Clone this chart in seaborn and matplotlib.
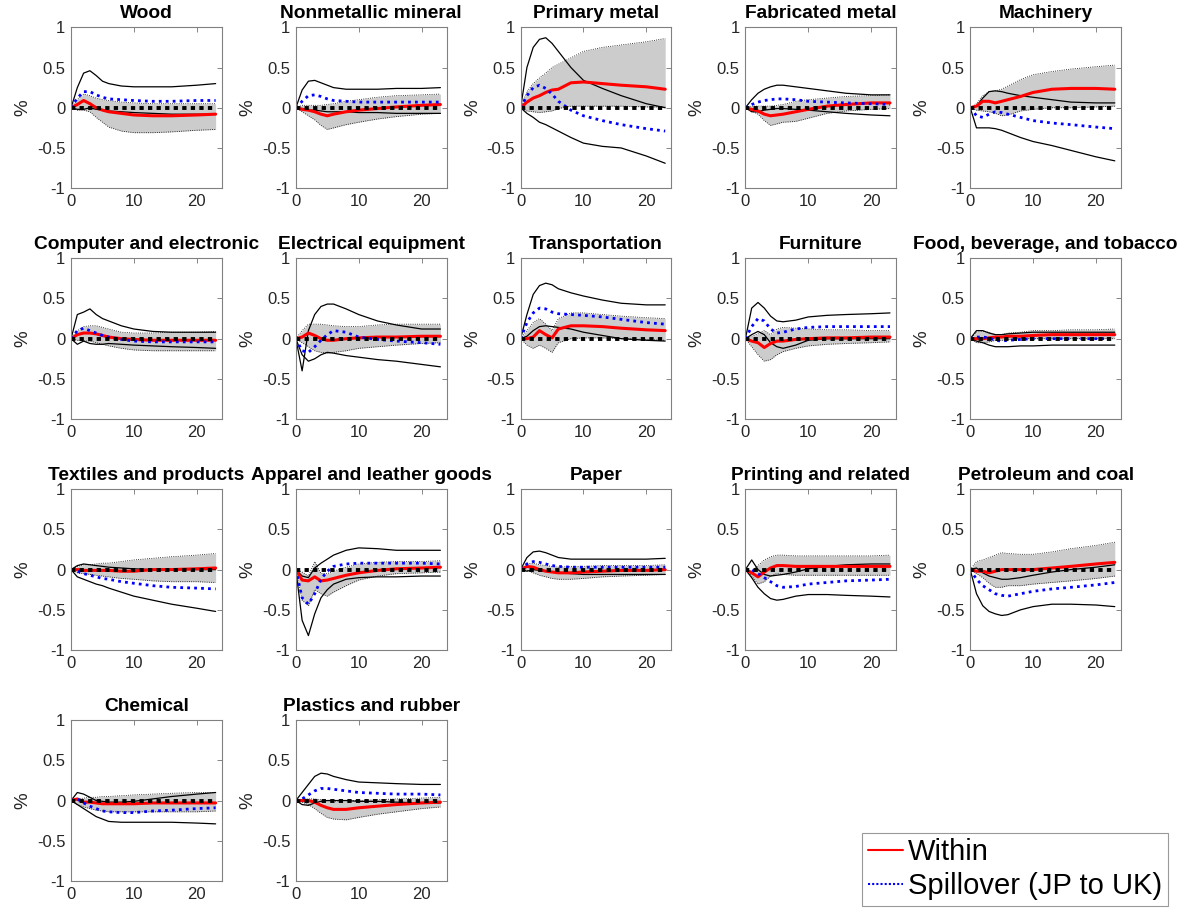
import matplotlib
matplotlib.use('Agg')
import matplotlib.pyplot as plt
from matplotlib.lines import Line2D
import seaborn as sns

horizons = [0, 1, 2, 3, 4, 5, 6, 8, 10, 13, 16, 20, 23]

industries = ['Wood', 'Nonmetallic mineral', 'Primary metal', 'Fabricated metal', 'Machinery',
              'Computer and electronic', 'Electrical equipment', 'Transportation', 'Furniture',
              'Food, beverage, and tobacco',
              'Textiles and products', 'Apparel and leather goods', 'Paper', 'Printing and related',
              'Petroleum and coal',
              'Chemical', 'Plastics and rubber']

# within-industry response (red) and its band (gray)
within = [
    [0, 0.04, 0.09, 0.05, 0.0, -0.03, -0.05, -0.07, -0.09, -0.1, -0.1, -0.09, -0.08],
    [0, -0.02, -0.03, -0.05, -0.08, -0.1, -0.08, -0.05, -0.03, -0.01, 0.01, 0.03, 0.04],
    [0, 0.07, 0.12, 0.15, 0.19, 0.22, 0.23, 0.31, 0.32, 0.3, 0.28, 0.26, 0.23],
    [0, -0.02, -0.04, -0.08, -0.1, -0.09, -0.08, -0.05, -0.02, 0.02, 0.04, 0.06, 0.06],
    [0, 0.02, 0.08, 0.08, 0.06, 0.08, 0.1, 0.14, 0.19, 0.23, 0.24, 0.24, 0.23],
    [0, 0.05, 0.07, 0.07, 0.06, 0.04, 0.02, 0.0, -0.01, -0.02, -0.02, -0.02, -0.02],
    [0, 0.02, 0.07, 0.04, 0.0, -0.02, -0.02, 0.0, 0.01, 0.02, 0.02, 0.03, 0.03],
    [0, 0.0, 0.02, 0.1, 0.05, 0.01, 0.12, 0.16, 0.16, 0.15, 0.13, 0.11, 0.1],
    [0, -0.03, -0.05, -0.11, -0.06, -0.03, -0.03, -0.01, 0.0, 0.01, 0.01, 0.02, 0.02],
    [0, 0.0, 0.0, 0.01, 0.02, 0.02, 0.03, 0.03, 0.04, 0.05, 0.05, 0.05, 0.05],
    [0, 0.0, -0.01, -0.01, -0.01, -0.01, -0.01, -0.02, -0.02, 0.0, 0.0, 0.01, 0.02],
    [0, -0.13, -0.14, -0.09, -0.14, -0.13, -0.11, -0.07, -0.04, -0.01, 0.01, 0.02, 0.03],
    [0, 0.04, 0.03, 0.0, -0.02, -0.03, -0.04, -0.04, -0.03, -0.02, -0.01, -0.01, 0.0],
    [0, -0.04, -0.09, -0.03, 0.02, 0.05, 0.05, 0.04, 0.04, 0.04, 0.04, 0.04, 0.04],
    [0, -0.02, -0.02, -0.04, -0.02, 0.0, 0.0, 0.0, 0.0, 0.02, 0.04, 0.07, 0.09],
    [0, 0.02, -0.02, -0.02, -0.03, -0.04, -0.04, -0.04, -0.04, -0.03, -0.03, -0.03, -0.03],
    [0, 0.0, 0.0, -0.02, -0.06, -0.09, -0.11, -0.11, -0.09, -0.07, -0.05, -0.03, -0.02],
]
within_hi = [
    [0, 0.1, 0.17, 0.15, 0.12, 0.1, 0.09, 0.07, 0.06, 0.05, 0.05, 0.05, 0.05],
    [0, 0.03, 0.03, 0.03, 0.03, 0.04, 0.05, 0.08, 0.1, 0.13, 0.15, 0.16, 0.17],
    [0, 0.2, 0.3, 0.37, 0.43, 0.5, 0.54, 0.62, 0.7, 0.75, 0.78, 0.82, 0.86],
    [0, 0.02, 0.02, 0.02, 0.02, 0.03, 0.04, 0.08, 0.1, 0.12, 0.14, 0.15, 0.16],
    [0, 0.05, 0.15, 0.2, 0.21, 0.23, 0.27, 0.35, 0.41, 0.45, 0.48, 0.51, 0.53],
    [0, 0.1, 0.15, 0.16, 0.16, 0.14, 0.12, 0.08, 0.07, 0.07, 0.08, 0.08, 0.09],
    [0, 0.1, 0.18, 0.18, 0.18, 0.17, 0.16, 0.15, 0.15, 0.17, 0.18, 0.18, 0.18],
    [0, 0.1, 0.2, 0.25, 0.18, 0.1, 0.25, 0.32, 0.32, 0.3, 0.28, 0.26, 0.25],
    [0, 0.03, 0.06, 0.1, 0.05, 0.12, 0.14, 0.13, 0.12, 0.11, 0.11, 0.1, 0.1],
    [0, 0.08, 0.09, 0.08, 0.05, 0.05, 0.07, 0.08, 0.1, 0.1, 0.11, 0.11, 0.12],
    [0, 0.04, 0.06, 0.06, 0.07, 0.08, 0.08, 0.1, 0.12, 0.14, 0.16, 0.18, 0.2],
    [0, -0.03, -0.08, 0.1, -0.05, -0.05, -0.02, 0.03, 0.07, 0.09, 0.1, 0.1, 0.11],
    [0, 0.07, 0.08, 0.06, 0.05, 0.04, 0.03, 0.04, 0.04, 0.05, 0.05, 0.05, 0.06],
    [0, -0.02, 0.05, 0.12, 0.16, 0.18, 0.18, 0.17, 0.17, 0.17, 0.17, 0.17, 0.18],
    [0, 0.1, 0.12, 0.15, 0.18, 0.21, 0.2, 0.19, 0.19, 0.22, 0.26, 0.3, 0.34],
    [0, 0.02, 0.03, 0.04, 0.04, 0.05, 0.05, 0.06, 0.07, 0.08, 0.09, 0.1, 0.1],
    [0, 0.02, 0.02, 0.02, 0.01, 0.0, -0.01, 0.0, 0.0, 0.01, 0.02, 0.03, 0.04],
]
within_lo = [
    [0, -0.03, -0.03, -0.05, -0.12, -0.18, -0.24, -0.29, -0.31, -0.31, -0.3, -0.28, -0.27],
    [0, -0.05, -0.1, -0.15, -0.22, -0.27, -0.25, -0.21, -0.18, -0.14, -0.11, -0.08, -0.07],
    [0, -0.04, -0.05, -0.06, -0.05, -0.04, -0.01, 0.02, 0.02, 0.02, 0.02, 0.01, 0.01],
    [0, -0.04, -0.08, -0.16, -0.22, -0.2, -0.18, -0.17, -0.13, -0.07, -0.04, -0.02, -0.01],
    [0, -0.03, -0.04, -0.05, -0.07, -0.1, -0.09, -0.04, -0.02, 0.0, 0.0, 0.01, 0.02],
    [0, -0.02, -0.03, -0.03, -0.05, -0.07, -0.09, -0.12, -0.14, -0.15, -0.15, -0.15, -0.15],
    [0, -0.05, -0.1, -0.15, -0.17, -0.18, -0.17, -0.15, -0.12, -0.1, -0.08, -0.06, -0.05],
    [0, -0.08, -0.12, -0.08, -0.12, -0.17, -0.05, 0.0, 0.01, 0.01, 0.0, -0.01, -0.02],
    [0, -0.1, -0.2, -0.28, -0.26, -0.2, -0.16, -0.12, -0.09, -0.07, -0.06, -0.05, -0.04],
    [0, -0.05, -0.05, -0.04, -0.02, -0.02, -0.01, 0.0, 0.0, 0.0, 0.0, 0.0, 0.0],
    [0, -0.04, -0.05, -0.06, -0.07, -0.08, -0.09, -0.11, -0.12, -0.14, -0.15, -0.15, -0.16],
    [0, -0.38, -0.45, -0.25, -0.3, -0.33, -0.28, -0.2, -0.13, -0.08, -0.05, -0.04, -0.03],
    [0, -0.01, -0.04, -0.07, -0.09, -0.11, -0.12, -0.12, -0.11, -0.09, -0.08, -0.07, -0.06],
    [0, -0.08, -0.18, -0.15, -0.08, -0.05, -0.06, -0.07, -0.07, -0.07, -0.07, -0.07, -0.07],
    [0, -0.05, -0.1, -0.17, -0.22, -0.22, -0.2, -0.2, -0.18, -0.16, -0.14, -0.11, -0.08],
    [0, -0.05, -0.08, -0.1, -0.12, -0.13, -0.14, -0.14, -0.14, -0.14, -0.14, -0.14, -0.13],
    [0, -0.02, -0.05, -0.1, -0.16, -0.21, -0.23, -0.24, -0.21, -0.17, -0.14, -0.1, -0.08],
]

# spillover JP -> UK (blue dotted) and its bounds (thin black)
spill = [
    [0, 0.12, 0.2, 0.2, 0.16, 0.13, 0.11, 0.1, 0.09, 0.08, 0.08, 0.09, 0.09],
    [0, 0.08, 0.15, 0.16, 0.14, 0.11, 0.09, 0.08, 0.07, 0.07, 0.07, 0.07, 0.07],
    [0, 0.15, 0.25, 0.28, 0.24, 0.17, 0.08, -0.03, -0.1, -0.16, -0.21, -0.26, -0.29],
    [0, 0.04, 0.07, 0.09, 0.1, 0.11, 0.11, 0.1, 0.08, 0.07, 0.06, 0.05, 0.04],
    [0, -0.1, -0.12, -0.08, -0.05, -0.06, -0.08, -0.12, -0.16, -0.19, -0.21, -0.24, -0.26],
    [0, 0.1, 0.13, 0.1, 0.07, 0.04, 0.02, -0.01, -0.03, -0.04, -0.04, -0.04, -0.04],
    [0, -0.15, -0.17, -0.1, -0.02, 0.05, 0.1, 0.08, 0.02, -0.01, -0.03, -0.05, -0.07],
    [0, 0.2, 0.32, 0.38, 0.37, 0.33, 0.31, 0.3, 0.29, 0.27, 0.24, 0.2, 0.18],
    [0, 0.15, 0.25, 0.22, 0.12, 0.07, 0.08, 0.12, 0.14, 0.15, 0.15, 0.15, 0.15],
    [0, 0.02, 0.02, 0.01, -0.02, -0.03, -0.02, -0.01, 0.0, 0.0, 0.0, 0.0, 0.0],
    [0, -0.02, -0.05, -0.07, -0.09, -0.11, -0.12, -0.15, -0.17, -0.2, -0.22, -0.23, -0.24],
    [0, -0.35, -0.43, -0.3, -0.12, -0.02, 0.04, 0.07, 0.08, 0.08, 0.08, 0.08, 0.07],
    [0, 0.07, 0.1, 0.09, 0.07, 0.05, 0.04, 0.03, 0.03, 0.03, 0.03, 0.03, 0.03],
    [0, 0.0, -0.05, -0.1, -0.15, -0.2, -0.22, -0.21, -0.18, -0.16, -0.14, -0.13, -0.12],
    [0, -0.12, -0.2, -0.25, -0.3, -0.32, -0.33, -0.3, -0.27, -0.24, -0.22, -0.19, -0.16],
    [0, 0.02, -0.03, -0.07, -0.1, -0.13, -0.14, -0.15, -0.15, -0.13, -0.12, -0.1, -0.09],
    [0, 0.02, 0.07, 0.12, 0.15, 0.15, 0.14, 0.12, 0.1, 0.09, 0.08, 0.08, 0.07],
]
spill_hi = [
    [0, 0.25, 0.43, 0.46, 0.4, 0.33, 0.3, 0.27, 0.26, 0.26, 0.26, 0.28, 0.3],
    [0, 0.22, 0.33, 0.34, 0.31, 0.28, 0.25, 0.23, 0.23, 0.23, 0.24, 0.24, 0.25],
    [0, 0.5, 0.75, 0.85, 0.87, 0.8, 0.7, 0.5, 0.34, 0.24, 0.15, 0.05, 0.0],
    [0, 0.1, 0.18, 0.23, 0.26, 0.28, 0.28, 0.26, 0.24, 0.21, 0.18, 0.16, 0.16],
    [0, 0.02, 0.12, 0.2, 0.21, 0.2, 0.18, 0.15, 0.13, 0.1, 0.07, 0.06, 0.06],
    [0, 0.3, 0.33, 0.37, 0.3, 0.25, 0.22, 0.16, 0.12, 0.09, 0.08, 0.08, 0.08],
    [0, -0.4, 0.1, 0.3, 0.4, 0.43, 0.43, 0.37, 0.3, 0.22, 0.17, 0.12, 0.12],
    [0, 0.3, 0.55, 0.66, 0.69, 0.67, 0.62, 0.57, 0.53, 0.48, 0.44, 0.42, 0.42],
    [0, 0.38, 0.45, 0.38, 0.28, 0.22, 0.21, 0.23, 0.27, 0.29, 0.3, 0.31, 0.32],
    [0, 0.1, 0.1, 0.07, 0.05, 0.05, 0.06, 0.07, 0.08, 0.08, 0.08, 0.08, 0.08],
    [0, 0.05, 0.07, 0.06, 0.05, 0.04, 0.03, 0.02, 0.01, 0.0, 0.0, 0.0, 0.0],
    [0, -0.08, -0.1, 0.02, 0.08, 0.13, 0.18, 0.24, 0.27, 0.26, 0.24, 0.24, 0.24],
    [0, 0.15, 0.22, 0.23, 0.21, 0.18, 0.15, 0.13, 0.13, 0.13, 0.13, 0.13, 0.14],
    [0, 0.12, 0.0, -0.06, -0.08, -0.07, -0.06, -0.03, 0.01, 0.04, 0.06, 0.07, 0.07],
    [0, 0.02, -0.04, -0.08, -0.1, -0.12, -0.12, -0.1, -0.07, -0.03, 0.0, 0.03, 0.06],
    [0, 0.1, 0.08, 0.04, 0.0, -0.01, -0.02, -0.02, -0.01, 0.02, 0.05, 0.08, 0.1],
    [0, 0.1, 0.2, 0.3, 0.34, 0.33, 0.3, 0.26, 0.23, 0.22, 0.21, 0.2, 0.2],
]
spill_lo = [
    [0, -0.02, -0.02, 0.0, -0.02, -0.03, -0.04, -0.05, -0.06, -0.07, -0.08, -0.08, -0.08],
    [0, -0.01, -0.03, -0.03, -0.04, -0.05, -0.05, -0.05, -0.06, -0.06, -0.07, -0.07, -0.07],
    [0, -0.07, -0.12, -0.18, -0.21, -0.25, -0.29, -0.37, -0.44, -0.48, -0.5, -0.6, -0.69],
    [0, -0.05, -0.05, -0.03, -0.02, -0.01, -0.01, -0.02, -0.03, -0.05, -0.07, -0.09, -0.1],
    [0, -0.25, -0.25, -0.25, -0.26, -0.28, -0.31, -0.37, -0.42, -0.47, -0.53, -0.61, -0.66],
    [0, -0.07, -0.03, -0.06, -0.07, -0.07, -0.06, -0.07, -0.08, -0.09, -0.1, -0.11, -0.12],
    [0, -0.2, -0.28, -0.25, -0.2, -0.17, -0.18, -0.21, -0.23, -0.26, -0.28, -0.32, -0.35],
    [0, 0.03, 0.1, 0.15, 0.16, 0.15, 0.14, 0.12, 0.08, 0.04, 0.0, -0.02, -0.03],
    [0, 0.05, 0.09, 0.05, -0.05, -0.1, -0.12, -0.08, -0.02, 0.0, 0.0, 0.0, 0.0],
    [0, -0.03, -0.05, -0.08, -0.1, -0.1, -0.1, -0.09, -0.09, -0.08, -0.08, -0.08, -0.08],
    [0, -0.09, -0.12, -0.15, -0.18, -0.2, -0.23, -0.28, -0.33, -0.38, -0.43, -0.48, -0.52],
    [0, -0.63, -0.82, -0.55, -0.35, -0.25, -0.18, -0.12, -0.1, -0.09, -0.09, -0.08, -0.08],
    [0, -0.02, 0.0, -0.01, -0.02, -0.03, -0.04, -0.05, -0.06, -0.06, -0.06, -0.06, -0.06],
    [0, -0.1, -0.22, -0.3, -0.36, -0.38, -0.37, -0.33, -0.31, -0.31, -0.32, -0.33, -0.34],
    [0, -0.3, -0.45, -0.52, -0.55, -0.57, -0.56, -0.5, -0.46, -0.43, -0.43, -0.44, -0.46],
    [0, -0.05, -0.1, -0.15, -0.2, -0.23, -0.26, -0.27, -0.27, -0.27, -0.27, -0.28, -0.29],
    [0, -0.05, -0.06, -0.03, -0.01, 0.0, 0.0, 0.0, -0.01, -0.01, -0.02, -0.03, -0.03],
]

yticks = [-1, -0.5, 0, 0.5, 1]
ytick_labels = ['-1', '-0.5', '0', '0.5', '1']
xticks = [0, 10, 20]

rojo = '#ff0000'
azul = '#0000ff'
gris = '#cccccc'

sns.set_style('white')
plt.rcParams['font.family'] = ['Liberation Sans', 'DejaVu Sans']
plt.rcParams['axes.unicode_minus'] = False

fig, axes = plt.subplots(4, 5, figsize=(11.92, 9.09), dpi=100)
fig.subplots_adjust(left=0.0596, right=0.9405, top=0.970, bottom=0.0308, wspace=0.49, hspace=0.435)
axes = axes.flatten()

for i, nombre in enumerate(industries):
    ax = axes[i]
    ax.fill_between(horizons, within_lo[i], within_hi[i], color=gris, linewidth=0)
    sns.lineplot(x=horizons, y=within_hi[i], ax=ax, color='k', linewidth=0.6, linestyle=':')
    sns.lineplot(x=horizons, y=within_lo[i], ax=ax, color='k', linewidth=0.6, linestyle=':')
    sns.lineplot(x=horizons, y=spill_hi[i], ax=ax, color='k', linewidth=0.9)
    sns.lineplot(x=horizons, y=spill_lo[i], ax=ax, color='k', linewidth=0.9)
    sns.lineplot(x=horizons, y=within[i], ax=ax, color=rojo, linewidth=2.2)
    sns.lineplot(x=horizons, y=spill[i], ax=ax, color=azul, linewidth=2, dashes=False,
                 linestyle=(0, (1, 1.5)))
    ax.hlines(0, horizons[0], horizons[-1], color='k', linewidth=2.8, linestyles=(0, (1.1, 1.1)))

    ax.set_xlim(0, 24)
    ax.set_ylim(-1, 1)
    ax.set_yticks(yticks)
    ax.set_yticklabels(ytick_labels)
    ax.set_xticks(xticks)
    ax.tick_params(direction='in', length=3.5, width=0.6, color='0.45', labelsize=12,
                   labelcolor='#262626', top=True, right=True, pad=4)
    for s in ax.spines.values():
        s.set_color('0.5')
        s.set_linewidth(0.8)
    ax.set_title(nombre, fontsize=13.8, fontweight='bold', pad=6.5, color='k')
    ax.set_ylabel('%', fontsize=13.5, color='#262626', labelpad=4)

for ax in axes[len(industries):]:
    ax.remove()

referencias = [Line2D([0], [0], color=rojo, linewidth=1.5),
               Line2D([0], [0], color=azul, linewidth=1.5, linestyle=(0, (1, 1)))]
leg = fig.legend(referencias, ['Within', 'Spillover (JP to UK)'], loc='lower right',
                 bbox_to_anchor=(0.982, 0.0), fontsize=21, handlelength=1.2, handletextpad=0.15,
                 borderpad=0.2, labelspacing=0.2, borderaxespad=0.1, fancybox=False, framealpha=1)
leg.get_frame().set_edgecolor('0.6')
leg.get_frame().set_linewidth(0.8)
for t in leg.get_texts():
    t.set_color('k')

fig.savefig('out.png', dpi=100)
